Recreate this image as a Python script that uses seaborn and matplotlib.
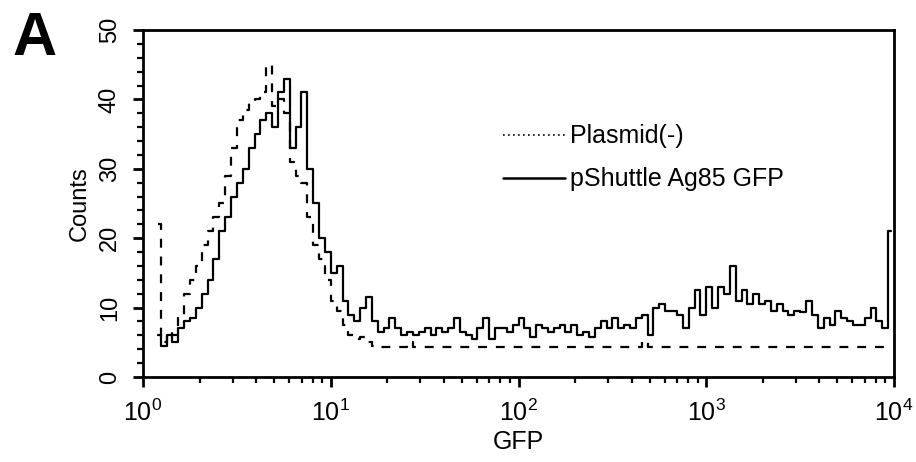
import numpy as np
import pandas as pd
import matplotlib
matplotlib.use("Agg")
import matplotlib.pyplot as plt
from matplotlib.lines import Line2D
from matplotlib.ticker import FixedLocator, FuncFormatter, MultipleLocator, LogLocator, NullFormatter
import seaborn as sns

# flow cytometry histogram, 128 log channels over 4 decades (data starts at channel 2)
N_CHANNELS = 128
first_channel = 2

plasmid_counts = [
    22, 5, 6.5, 6, 9, 12, 14, 16, 19, 21, 23, 25, 29, 33, 37, 38.5,
    39.5, 40, 41, 45, 39, 40, 38, 31, 29, 28, 23, 19, 17, 14, 11, 9.5,
    7.5, 6, 5.5, 5.8, 5, 4.5, 4.3, 4.3, 4.3, 4.3, 4.3, 5, 4.3, 4.3, 4.3, 4.3,
    4.3, 4.3, 4.3, 4.3, 4.3, 4.3, 4.3, 4.3, 4.3, 4.3, 4.3, 4.3, 4.3, 4.3, 4.3, 4.3,
    4.3, 4.3, 4.3, 4.3, 4.3, 4.3, 4.3, 4.3, 4.3, 4.3, 4.3, 4.3, 4.3, 4.3, 4.3, 4.3,
    4.3, 4.3, 4.3, 5.2, 4.3, 4.3, 4.3, 4.3, 4.3, 4.3, 4.3, 4.3, 4.3, 4.3, 4.3, 4.3,
    4.3, 4.3, 4.3, 4.3, 4.3, 4.3, 4.3, 4.3, 4.3, 4.3, 4.3, 4.3, 4.3, 4.3, 4.3, 4.3,
    4.3, 4.3, 4.3, 4.3, 4.3, 4.3, 4.3, 4.3, 4.3, 4.3, 4.3, 4.3, 4.3, 4.3,
]

shuttle_counts = [
    6, 4.5, 6, 5, 7, 8, 8.5, 10, 12, 14, 17, 21, 23, 26, 28, 30,
    33, 35, 37, 38, 36, 41, 43, 33, 36, 41, 30, 25, 20, 18, 15, 16,
    11, 9, 8, 10, 11.5, 8, 6.5, 7, 8.5, 7, 6, 6.5, 6, 6.5, 7, 6,
    7, 6.5, 7, 8.5, 6.5, 6, 5.5, 7, 8.5, 5.5, 7, 7, 6.5, 7.5, 8.5, 7,
    5.8, 7.5, 7, 6.5, 7, 7.5, 6.5, 7.5, 6, 6.5, 5.8, 7, 8, 7, 8.5, 7,
    7.5, 7, 8.5, 9, 6, 10, 10.5, 9.5, 9.5, 9, 7, 10, 12.5, 9, 13, 10,
    13, 12, 16, 11, 12.5, 10.5, 12, 10.5, 11, 9.5, 10.5, 9.5, 9, 9.5, 9.3, 11,
    9, 7, 8.5, 7.5, 9.5, 8.5, 8, 7.5, 7.5, 8.5, 10, 8, 7, 21,
]

labels = ["Plasmid(-)", "pShuttle Ag85 GFP"]

channels = np.arange(first_channel, first_channel + len(shuttle_counts))
gfp = 10 ** ((channels + 0.5) * 4 / N_CHANNELS)

df = pd.concat([
    pd.DataFrame({"GFP": gfp, "Counts": plasmid_counts, "sample": labels[0]}),
    pd.DataFrame({"GFP": gfp, "Counts": shuttle_counts, "sample": labels[1]}),
])

sns.set_theme(style="ticks", rc={"text.color": "black", "axes.labelcolor": "black",
                                 "xtick.color": "black", "ytick.color": "black"})
plt.rcParams["font.family"] = ["Liberation Sans", "DejaVu Sans"]
plt.rcParams["mathtext.fontset"] = "custom"
plt.rcParams["mathtext.rm"] = "Liberation Sans"

fig = plt.figure(figsize=(9.16, 4.62), dpi=100)
ax = fig.add_axes([143 / 916, 1 - 377 / 462, (894 - 143) / 916, (377 - 30) / 462])

sns.lineplot(data=df, x="GFP", y="Counts", hue="sample", style="sample",
             palette={labels[0]: "black", labels[1]: "black"},
             dashes={labels[0]: (4, 4), labels[1]: ""},
             drawstyle="steps-mid", linewidth=1.6, legend=False, ax=ax)

ax.set_xscale("log")
ax.set_xlim(1, 1e4)
ax.set_ylim(0, 50)

ax.xaxis.set_major_locator(FixedLocator([1, 10, 100, 1000, 10000]))
ax.xaxis.set_minor_locator(LogLocator(base=10, subs=np.arange(2, 10)))
ax.xaxis.set_minor_formatter(NullFormatter())
ax.xaxis.set_major_formatter(FuncFormatter(lambda v, p: r"$\mathrm{10}^{%d}$" % round(np.log10(v))))
ax.yaxis.set_major_locator(MultipleLocator(10))
ax.yaxis.set_minor_locator(MultipleLocator(2))

for s in ax.spines.values():
    s.set_linewidth(2)
    s.set_color("black")
ax.tick_params(which="major", direction="out", length=7, width=2, color="black")
ax.tick_params(which="minor", direction="out", length=4.5, width=1.6, color="black")
ax.tick_params(axis="x", which="major", labelsize=18, pad=9)
ax.tick_params(axis="y", which="major", labelsize=17, pad=9, labelrotation=90)
for t in ax.get_yticklabels():
    t.set_va("center")

ax.set_xlabel("GFP", fontsize=18, labelpad=3)
ax.set_ylabel("Counts", fontsize=17, labelpad=6)

handles = [Line2D([], [], color="black", lw=1.2, linestyle=(0, (1, 2))),
           Line2D([], [], color="black", lw=1.8)]
ax.legend(handles, labels, loc="upper left", frameon=False, fontsize=18,
          bbox_to_anchor=(490 / 916, 1 - 112 / 462), bbox_transform=fig.transFigure,
          handlelength=2.5, handletextpad=0.2, labelspacing=0.75, borderpad=0)

fig.text(12 / 916, 1 - 55 / 462, "A", fontsize=44, fontweight="bold", va="baseline", color="black")

fig.savefig("out.png", dpi=100)
